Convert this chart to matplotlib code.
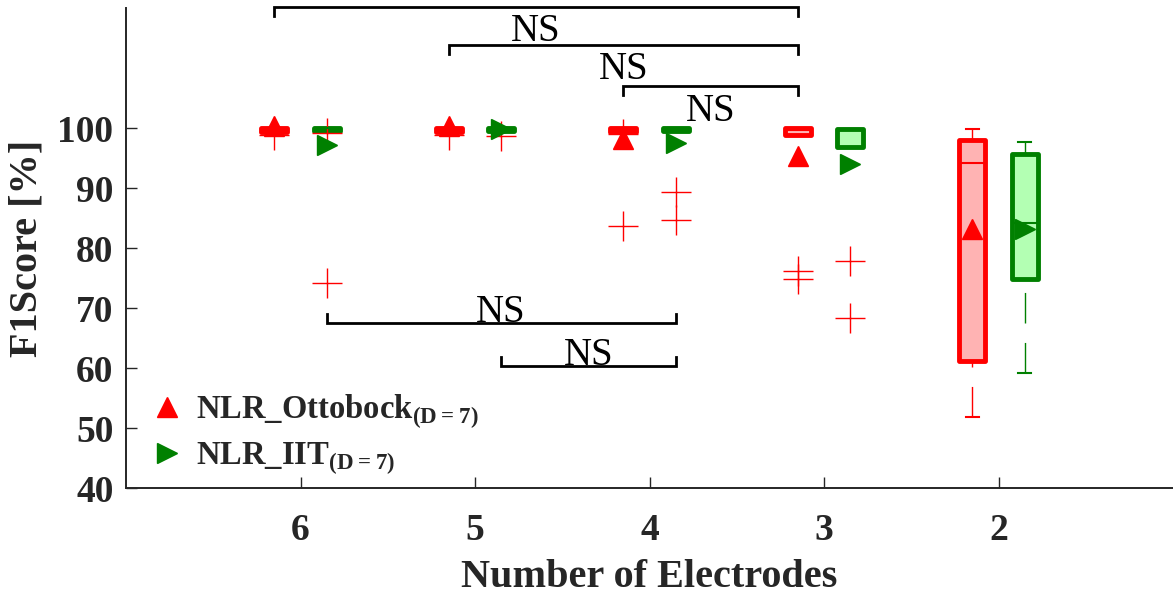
import numpy as np
import matplotlib
matplotlib.use('Agg')
import matplotlib.pyplot as plt

# ── Style: Times-like bold text, MATLAB-ish axes ─────────────────────────
matplotlib.rcParams.update({
    'font.family': 'serif',
    'font.serif': ['Liberation Serif', 'DejaVu Serif'],
    'font.weight': 'bold',
    'axes.labelweight': 'bold',
    'mathtext.fontset': 'custom',
    'mathtext.rm': 'Liberation Serif:bold',
    'mathtext.bf': 'Liberation Serif:bold',
    'axes.linewidth': 1.4,
    'axes.edgecolor': '#262626',
    'figure.facecolor': 'white',
})

DARK = '#262626'
RED, RED_FILL = '#FF0000', '#FFB3B3'
GRN, GRN_FILL = '#008000', '#B3FFB3'

# ── Data: box statistics per electrode count ─────────────────────────────
n_electrodes = ['6', '5', '4', '3', '2']

otto_q1   = [99.4, 99.4, 99.3, 98.8, 61.1]
otto_med  = [99.8, 99.8, 99.7, 99.7, 94.2]
otto_q3   = [100.0, 100.0, 100.0, 100.0, 98.0]
otto_lo   = [99.3, 99.3, 99.2, 98.8, 51.8]
otto_hi   = [100.0, 100.0, 100.0, 100.0, 99.8]
otto_mean = [100.4, 100.4, 98.1, 95.4, 83.1]
otto_out  = [[98.9], [98.9], [99.0, 83.7], [76.1, 74.8], []]

iit_q1   = [99.5, 99.5, 99.5, 96.8, 74.8]
iit_med  = [100.0, 100.0, 100.0, 99.9, 84.1]
iit_q3   = [100.0, 100.0, 100.0, 99.9, 95.7]
iit_lo   = [99.5, 99.5, 99.5, 96.8, 59.2]
iit_hi   = [100.0, 100.0, 100.0, 99.9, 97.6]
iit_mean = [97.2, 99.8, 97.5, 94.0, 83.2]
iit_out  = [[99.2, 74.1], [98.7], [89.3, 84.7], [77.9, 68.4], []]

series_labels = [r'NLR_Ottobock$_{\mathbf{(D = 7)}}$',
                 r'NLR_IIT$_{\mathbf{(D = 7)}}$']

# significance brackets: (group_a, series_a, group_b, series_b)
# series 0 = Ottobock, 1 = IIT
brackets_top = [(0, 0, 3, 0), (1, 0, 3, 0), (2, 0, 3, 0)]
brackets_low = [(0, 1, 2, 1), (1, 1, 2, 1)]


def make_stats(q1, med, q3, lo, hi, mean, out):
    return [dict(q1=a, med=b, q3=c, whislo=d, whishi=e, mean=f, fliers=g)
            for a, b, c, d, e, f, g in zip(q1, med, q3, lo, hi, mean, out)]


def draw_boxes(ax, stats, pos, col, fill, mean_marker):
    bp = ax.bxp(stats, positions=pos, widths=0.15, capwidths=0.075,
                patch_artist=True, showmeans=True, manage_ticks=False,
                boxprops=dict(facecolor=fill, edgecolor=col, linewidth=3.5,
                              joinstyle='round'),
                medianprops=dict(color=col, linewidth=1.5),
                whiskerprops=dict(color=col, linewidth=1.0,
                                  linestyle=(0, (22, 14))),
                capprops=dict(color=col, linewidth=1.5),
                flierprops=dict(marker='+', markeredgecolor=RED,
                                markersize=22, markeredgewidth=1.0,
                                linestyle='none'),
                meanprops=dict(marker=mean_marker, markerfacecolor=col,
                               markeredgecolor=col, markersize=15,
                               linestyle='none', zorder=5))
    # dashes start at the cap end, like MATLAB draws them
    for w in bp['whiskers']:
        w.set_ydata(w.get_ydata()[::-1])
    return bp


fig = plt.figure(figsize=(11.73, 5.94), dpi=100)
ax = fig.add_axes([126 / 1173, 1 - 488 / 594, 1 - 126 / 1173, 480 / 594])

x = np.arange(1, len(n_electrodes) + 1)
dx = 0.15
pos = [x - dx, x + dx]

bp_otto = draw_boxes(ax, make_stats(otto_q1, otto_med, otto_q3, otto_lo,
                                    otto_hi, otto_mean, otto_out),
                     pos[0], RED, RED_FILL, '^')
bp_iit = draw_boxes(ax, make_stats(iit_q1, iit_med, iit_q3, iit_lo,
                                   iit_hi, iit_mean, iit_out),
                    pos[1], GRN, GRN_FILL, '>')

# ── Significance brackets ────────────────────────────────────────────────
top_lines = [120.2, 113.9, 107.0]
low_lines = [67.5, 60.3]
tip = 1.5

for (ga, sa, gb, sb), yl in zip(brackets_top, top_lines):
    xa, xb = pos[sa][ga], pos[sb][gb]
    ax.plot([xa, xa, xb, xb], [yl - tip, yl, yl, yl - tip], color='k',
            lw=2.0, solid_joinstyle='miter', clip_on=False, zorder=6)
    ax.text((xa + xb) / 2, yl - 1.1, 'NS', ha='center', va='top',
            fontsize=28, fontweight='normal', color='k', clip_on=False)

for (ga, sa, gb, sb), yl in zip(brackets_low, low_lines):
    xa, xb = pos[sa][ga], pos[sb][gb]
    ax.plot([xa, xa, xb, xb], [yl + tip, yl, yl, yl + tip], color='k',
            lw=2.0, solid_joinstyle='miter', zorder=6)
    ax.text((xa + xb) / 2, yl + 0.2, 'NS', ha='center', va='baseline',
            fontsize=28, fontweight='normal', color='k')

# ── Axes ─────────────────────────────────────────────────────────────────
ax.set_xlim(0, 6)
ax.set_ylim(40, 120)
ax.set_xticks(x)
ax.set_xticklabels(n_electrodes)
ax.set_yticks(np.arange(40, 101, 10))
ax.spines['top'].set_visible(False)
ax.spines['right'].set_visible(False)
ax.tick_params(direction='in', length=8, width=1.0, colors=DARK,
               labelsize=27)
ax.tick_params(axis='x', pad=18)
ax.tick_params(axis='y', pad=9)

ax.set_xlabel('Number of Electrodes', fontsize=29, fontweight='bold',
              color=DARK)
ax.set_ylabel('F1Score [%]', fontsize=29, fontweight='bold', color=DARK)
ax.xaxis.set_label_coords(0.5, -0.148)
ax.yaxis.set_label_coords(-0.077, 0.5)

ax.legend([bp_otto['means'][0], bp_iit['means'][0]], series_labels,
          loc='upper left', bbox_to_anchor=(154 / 1173, 1 - 393 / 594),
          bbox_transform=fig.transFigure, frameon=False,
          prop={'weight': 'bold', 'size': 23.5},
          handlelength=0.8, handletextpad=0.5, borderpad=0,
          borderaxespad=0, labelspacing=0.28, labelcolor=DARK)

fig.savefig('out.png', dpi=100, facecolor='white')
